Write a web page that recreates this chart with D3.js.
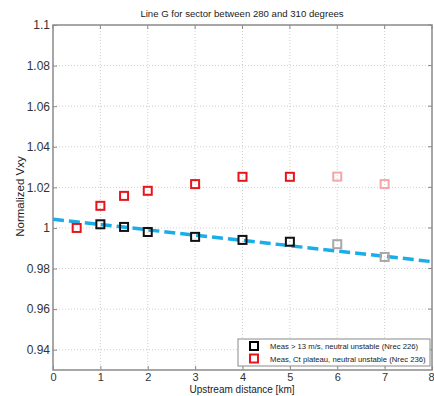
<!DOCTYPE html>
<html>
<head>
<meta charset="utf-8">
<script src="https://cdn.jsdelivr.net/npm/d3@7"></script>
<style>
  html, body { margin: 0; padding: 0; background: #fff; }
  svg { display: block; font-family: "Liberation Sans", Arial, sans-serif; }
</style>
</head>
<body>
<svg id="chart" width="434" height="396"></svg>
<script>
// Upstream distances (km) for each measurement group
const blackDist = [1, 1.5, 2, 3, 4, 5, 6, 7];
const blackVal  = [1.0018, 1.0005, 0.998, 0.9956, 0.9941, 0.9932, 0.992, 0.9857];
const blackFaded = [false, false, false, false, false, false, true, true];

const redDist = [0.5, 1, 1.5, 2, 3, 4, 5, 6, 7];
const redVal  = [1.000, 1.0109, 1.0158, 1.0183, 1.0216, 1.0252, 1.0252, 1.0253, 1.0216];
const redFaded = [false, false, false, false, false, false, false, true, true];

// Linear trend end points
const trendX = [0, 8];
const trendY = [1.0043, 0.9834];

const xTicks = [0, 1, 2, 3, 4, 5, 6, 7, 8];
const yTicks = [0.94, 0.96, 0.98, 1, 1.02, 1.04, 1.06, 1.08, 1.1];

const legendLabels = [
  "Meas > 13 m/s, neutral unstable (Nrec 226)",
  "Meas, Ct plateau, neutral unstable (Nrec 236)"
];
const legendColors = ["#000000", "#e8141c"];

const svg = d3.select("#chart");
const m = { left: 53, top: 25, right: 432, bottom: 370 };

const x = d3.scaleLinear().domain([0, 8]).range([m.left, m.right]);
const y = d3.scaleLinear().domain([0.93, 1.1]).range([m.bottom, m.top]);

// Dotted grid
const grid = svg.append("g");
grid.selectAll("line.gx").data(xTicks.slice(1, -1)).join("line")
  .attr("x1", d => x(d)).attr("x2", d => x(d))
  .attr("y1", m.top).attr("y2", m.bottom)
  .attr("stroke", "#cfcfcf").attr("stroke-width", 1).attr("stroke-dasharray", "1,2");
grid.selectAll("line.gy").data(yTicks.filter(d => d < 1.1)).join("line")
  .attr("x1", m.left).attr("x2", m.right)
  .attr("y1", d => y(d)).attr("y2", d => y(d))
  .attr("stroke", "#cfcfcf").attr("stroke-width", 1).attr("stroke-dasharray", "1,2");

// Axes with inward ticks
const xAxis = svg.append("g").attr("transform", `translate(0,${m.bottom})`)
  .call(d3.axisBottom(x).tickValues(xTicks).tickFormat(d3.format("d"))
    .tickSizeInner(-4).tickSizeOuter(0).tickPadding(3));
const yAxis = svg.append("g").attr("transform", `translate(${m.left},0)`)
  .call(d3.axisLeft(y).tickValues(yTicks).tickFormat(d => String(+d.toFixed(2)))
    .tickSizeInner(-4).tickSizeOuter(0).tickPadding(3));
[xAxis, yAxis].forEach(a => {
  a.select(".domain").remove();
  a.selectAll(".tick line").attr("stroke", "#8a8a8a");
  a.selectAll(".tick text").attr("fill", "#333")
    .style("font-family", "'Liberation Sans', Arial, sans-serif");
});
yAxis.selectAll(".tick text").style("font-size", "12px");
xAxis.selectAll(".tick text").style("font-size", "11px");
// keep the last x label inside the canvas
xAxis.selectAll(".tick text").filter(d => d === 8)
  .attr("text-anchor", "end").attr("x", 434 - x(8));

// Top / right tick marks
svg.append("g").selectAll("line").data(xTicks).join("line")
  .attr("x1", d => x(d)).attr("x2", d => x(d))
  .attr("y1", m.top).attr("y2", m.top + 4).attr("stroke", "#8a8a8a");
svg.append("g").selectAll("line").data(yTicks).join("line")
  .attr("x1", m.right - 4).attr("x2", m.right)
  .attr("y1", d => y(d)).attr("y2", d => y(d)).attr("stroke", "#8a8a8a");

// Frame
svg.append("rect")
  .attr("x", m.left).attr("y", m.top)
  .attr("width", m.right - m.left).attr("height", m.bottom - m.top)
  .attr("fill", "none").attr("stroke", "#8a8a8a").attr("stroke-width", 1.5);

// Trend line
svg.append("path")
  .datum(trendX.map((d, i) => [d, trendY[i]]))
  .attr("d", d3.line().x(d => x(d[0])).y(d => y(d[1])))
  .attr("fill", "none").attr("stroke", "#1aaee8").attr("stroke-width", 3.5)
  .attr("stroke-dasharray", "11,5");

// Square markers
const sq = 8;
function drawMarkers(dist, vals, faded, color, fadedColor) {
  svg.append("g").selectAll("rect").data(dist.map((d, i) => ({ d, v: vals[i], f: faded[i] })))
    .join("rect")
    .attr("x", p => x(p.d) - sq / 2).attr("y", p => y(p.v) - sq / 2)
    .attr("width", sq).attr("height", sq)
    .attr("fill", "none")
    .attr("stroke", p => p.f ? fadedColor : color)
    .attr("stroke-width", 2);
}
drawMarkers(redDist, redVal, redFaded, "#e8141c", "#f4a6a8");
drawMarkers(blackDist, blackVal, blackFaded, "#111111", "#a8a8a8");

// Title and axis labels
svg.append("text").attr("x", 242).attr("y", 17)
  .attr("text-anchor", "middle").style("font-size", "9.6px").attr("fill", "#222")
  .text("Line G for sector between 280 and 310 degrees");
svg.append("text").attr("x", 242).attr("y", 392.6)
  .attr("text-anchor", "middle").style("font-size", "10px").attr("fill", "#222")
  .text("Upstream distance [km]");
svg.append("text")
  .attr("transform", `translate(24,196.5) rotate(-90)`)
  .attr("text-anchor", "middle").style("font-size", "11.5px").attr("fill", "#222")
  .text("Normalized Vxy");

// Legend
const lg = svg.append("g");
lg.append("rect").attr("x", 238).attr("y", 339).attr("width", 192).attr("height", 27)
  .attr("fill", "#fff").attr("stroke", "#8a8a8a").attr("stroke-width", 1);
legendLabels.forEach((t, i) => {
  const cy = 346 + i * 12.5;
  lg.append("rect").attr("x", 254 - 4).attr("y", cy - 4).attr("width", 8).attr("height", 8)
    .attr("fill", "none").attr("stroke", legendColors[i]).attr("stroke-width", 2);
  lg.append("text").attr("x", 270).attr("y", cy + 3).style("font-size", "7.7px").attr("fill", "#222")
    .text(t);
});
</script>
</body>
</html>
